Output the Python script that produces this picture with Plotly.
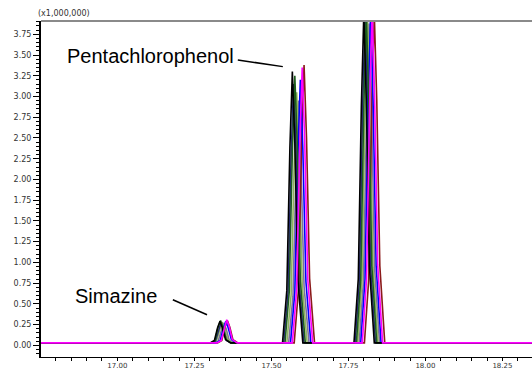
import plotly.graph_objects as go

# Retention time (min) and intensity (x1,000,000) for each overlaid run
t_black = [16.75, 17.301, 17.315, 17.325, 17.333, 17.341, 17.351, 17.367,
           17.536, 17.550, 17.560, 17.568, 17.576, 17.586, 17.602,
           17.768, 17.782, 17.792, 17.800, 17.808, 17.818, 17.834, 18.35]
y_black = [0.03, 0.03, 0.06, 0.21, 0.29, 0.21, 0.07, 0.03,
           0.03, 0.66, 2.38, 3.30, 2.44, 0.79, 0.03,
           0.03, 0.80, 2.88, 4.00, 2.96, 0.96, 0.03, 0.03]

t_navy = [16.75, 17.304, 17.318, 17.328, 17.336, 17.344, 17.354, 17.370,
          17.540, 17.554, 17.564, 17.572, 17.580, 17.590, 17.606,
          17.772, 17.786, 17.796, 17.804, 17.812, 17.822, 17.838, 18.35]
y_navy = [0.03, 0.03, 0.05, 0.19, 0.27, 0.20, 0.06, 0.03,
          0.03, 0.63, 2.27, 3.15, 2.33, 0.76, 0.03,
          0.03, 0.79, 2.84, 3.95, 2.92, 0.95, 0.03, 0.03]

t_green = [16.75, 17.303, 17.317, 17.327, 17.335, 17.343, 17.353, 17.369,
           17.544, 17.558, 17.568, 17.576, 17.584, 17.594, 17.610,
           17.776, 17.790, 17.800, 17.808, 17.816, 17.826, 17.842, 18.35]
y_green = [0.03, 0.03, 0.06, 0.22, 0.30, 0.22, 0.07, 0.03,
           0.03, 0.65, 2.34, 3.25, 2.41, 0.78, 0.03,
           0.03, 0.80, 2.88, 4.00, 2.96, 0.96, 0.03, 0.03]

t_olive = [16.75, 17.308, 17.322, 17.332, 17.340, 17.348, 17.358, 17.374,
           17.550, 17.564, 17.574, 17.582, 17.590, 17.600, 17.616,
           17.780, 17.794, 17.804, 17.812, 17.820, 17.830, 17.846, 18.35]
y_olive = [0.03, 0.03, 0.06, 0.20, 0.28, 0.21, 0.07, 0.03,
           0.03, 0.61, 2.20, 3.05, 2.26, 0.73, 0.03,
           0.03, 0.78, 2.82, 3.92, 2.90, 0.94, 0.03, 0.03]

t_gray = [16.75, 17.313, 17.327, 17.337, 17.345, 17.353, 17.363, 17.379,
          17.556, 17.570, 17.580, 17.588, 17.596, 17.606, 17.622,
          17.785, 17.799, 17.809, 17.817, 17.825, 17.835, 17.851, 18.35]
y_gray = [0.03, 0.03, 0.05, 0.19, 0.27, 0.20, 0.06, 0.03,
          0.03, 0.59, 2.12, 2.95, 2.18, 0.71, 0.03,
          0.03, 0.78, 2.79, 3.88, 2.87, 0.93, 0.03, 0.03]

t_blue = [16.75, 17.320, 17.334, 17.344, 17.352, 17.360, 17.370, 17.386,
          17.562, 17.576, 17.586, 17.594, 17.602, 17.612, 17.628,
          17.790, 17.804, 17.814, 17.822, 17.830, 17.840, 17.856, 18.35]
y_blue = [0.03, 0.03, 0.06, 0.21, 0.29, 0.21, 0.07, 0.03,
          0.03, 0.64, 2.30, 3.20, 2.37, 0.77, 0.03,
          0.03, 0.80, 2.88, 4.00, 2.96, 0.96, 0.03, 0.03]

t_magenta = [16.75, 17.323, 17.337, 17.347, 17.355, 17.363, 17.373, 17.389,
             17.568, 17.582, 17.592, 17.600, 17.608, 17.618, 17.634,
             17.795, 17.809, 17.819, 17.827, 17.835, 17.845, 17.861, 18.35]
y_magenta = [0.03, 0.03, 0.06, 0.22, 0.31, 0.23, 0.07, 0.03,
             0.03, 0.67, 2.41, 3.35, 2.48, 0.80, 0.03,
             0.03, 0.81, 2.92, 4.05, 3.00, 0.97, 0.03, 0.03]

t_maroon = [16.75, 17.325, 17.339, 17.349, 17.357, 17.365, 17.375, 17.391,
            17.574, 17.588, 17.598, 17.606, 17.614, 17.624, 17.640,
            17.802, 17.816, 17.826, 17.834, 17.842, 17.852, 17.868, 18.35]
y_maroon = [0.03, 0.03, 0.06, 0.22, 0.30, 0.22, 0.07, 0.03,
            0.03, 0.68, 2.43, 3.38, 2.50, 0.81, 0.03,
            0.03, 0.80, 2.88, 4.00, 2.96, 0.96, 0.03, 0.03]

x_tick_vals = [17.00, 17.25, 17.50, 17.75, 18.00, 18.25]
y_tick_vals = [0.00, 0.25, 0.50, 0.75, 1.00, 1.25, 1.50, 1.75, 2.00,
               2.25, 2.50, 2.75, 3.00, 3.25, 3.50, 3.75]

runs = [
    (t_gray, y_gray, "#7d6f9c"),
    (t_olive, y_olive, "#8fb35e"),
    (t_navy, y_navy, "#26267a"),
    (t_maroon, y_maroon, "#8b1a1a"),
    (t_blue, y_blue, "#0000ff"),
    (t_green, y_green, "#1e5e1e"),
    (t_black, y_black, "#000000"),
    (t_magenta, y_magenta, "#ff00ff"),
]

fig = go.Figure()
for tx, ty, col in runs:
    fig.add_trace(go.Scatter(x=tx, y=ty, mode="lines",
                             line=dict(color=col, width=1.6),
                             showlegend=False, hoverinfo="skip"))

x_tick_font = dict(family="DejaVu Sans, sans-serif", size=7, color="#333")
y_tick_font = dict(family="DejaVu Sans, sans-serif", size=8, color="#333")

fig.update_layout(
    width=532, height=370,
    margin=dict(l=41, r=0, t=21, b=13),
    paper_bgcolor="white", plot_bgcolor="white",
    showlegend=False,
    xaxis=dict(range=[16.752, 18.346], showgrid=False, zeroline=False,
               showline=True, linecolor="black", linewidth=1,
               ticks="outside", ticklen=3, tickcolor="black",
               tickvals=x_tick_vals, ticktext=[f"{v:.2f}" for v in x_tick_vals],
               tickfont=x_tick_font, automargin=False, ticklabelstandoff=-1,
               minor=dict(dtick=0.05, tick0=17.0, ticks="outside", ticklen=3,
                          tickcolor="black", showgrid=False)),
    yaxis=dict(range=[-0.14, 3.91], showgrid=False, zeroline=False,
               showline=True, linecolor="black", linewidth=2,
               ticks="outside", ticklen=6, tickcolor="black",
               tickvals=y_tick_vals, ticktext=[f"{v:.2f}" for v in y_tick_vals],
               tickfont=y_tick_font, automargin=False,
               minor=dict(dtick=0.05, tick0=0.0, ticks="outside", ticklen=3,
                          tickcolor="black", showgrid=False)),
)

# top border
fig.add_shape(type="line", xref="paper", yref="paper", x0=0, x1=1, y0=1, y1=1,
              line=dict(color="#8a8a8a", width=2))

label_font = dict(family="Liberation Sans, Arial, sans-serif", size=20, color="black")
fig.add_annotation(x=17.109, y=3.49, text="Pentachlorophenol", showarrow=False,
                   font=label_font, xanchor="center", yanchor="middle")
fig.add_annotation(x=16.995, y=0.60, text="Simazine", showarrow=False,
                   font=label_font, xanchor="center", yanchor="middle")
fig.add_shape(type="line", x0=17.391, y0=3.44, x1=17.537, y1=3.36,
              line=dict(color="black", width=1.5))
fig.add_shape(type="line", x0=17.180, y0=0.55, x1=17.291, y1=0.37,
              line=dict(color="black", width=1.5))

fig.add_annotation(xref="paper", yref="paper", x=-0.01, y=1, yshift=1,
                   text="(x1,000,000)", showarrow=False,
                   font=dict(family="DejaVu Sans, sans-serif", size=8, color="#333"),
                   xanchor="left", yanchor="bottom")

fig.write_html("out.html", config={"displayModeBar": False},
               post_script="document.body.style.margin='0';")
